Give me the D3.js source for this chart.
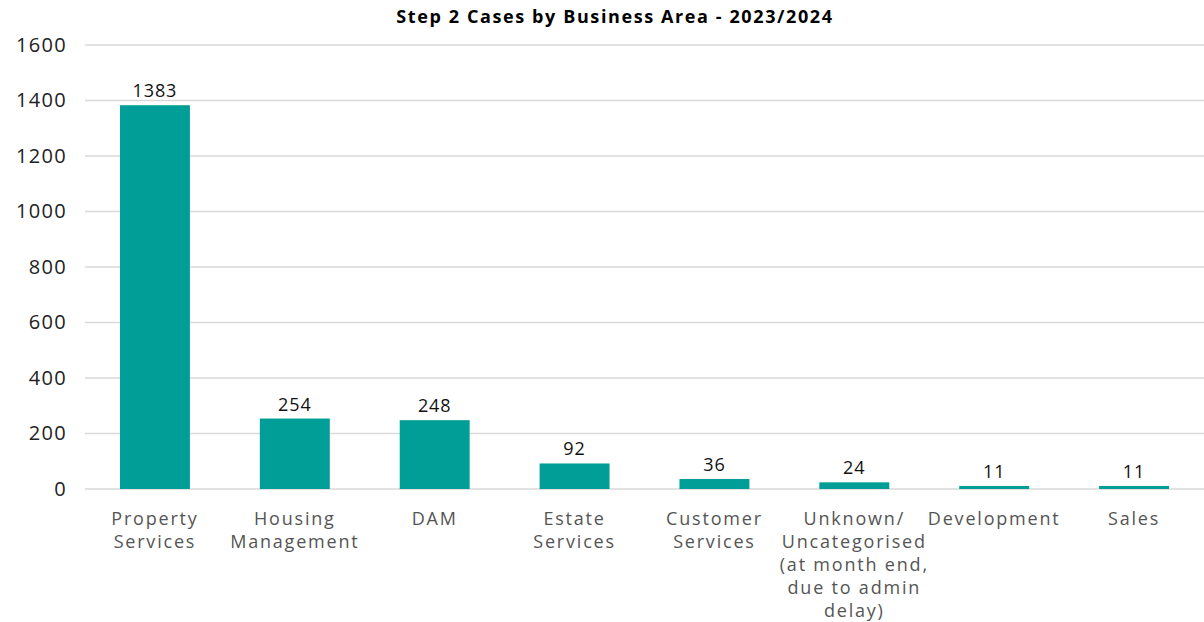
<!DOCTYPE html>
<html>
<head>
<meta charset="utf-8">
<script src="https://cdn.jsdelivr.net/npm/d3@7"></script>
<style>
  html, body { margin: 0; padding: 0; background: #fff; }
  svg { display: block; font-family: "Open Sans", "Noto Sans", sans-serif; }
</style>
</head>
<body>
<svg id="chart" width="1204" height="622"></svg>
<script>
// Step 2 cases per business area, 2023/2024
const categories = [
  ["Property", "Services"],
  ["Housing", "Management"],
  ["DAM"],
  ["Estate", "Services"],
  ["Customer", "Services"],
  ["Unknown/", "Uncategorised", "(at month end,", "due to admin", "delay)"],
  ["Development"],
  ["Sales"]
];
const values = [1383, 254, 248, 92, 36, 24, 11, 11];
const yTicks = [0, 200, 400, 600, 800, 1000, 1200, 1400, 1600];
const title = "Step 2 Cases by Business Area - 2023/2024";

const svg = d3.select("#chart");
const W = 1204, H = 622;
const margin = { top: 45, right: 0, bottom: 133, left: 85 };
const FONT = "'Open Sans', 'Noto Sans', sans-serif";

const keys = categories.map((c, i) => i);
const x = d3.scaleBand().domain(keys).range([margin.left, W - margin.right]).paddingInner(0.5).paddingOuter(0.25);
const y = d3.scaleLinear().domain([0, 1600]).range([H - margin.bottom, margin.top]);

// Title
svg.append("text")
  .attr("x", 615).attr("y", 23)
  .attr("text-anchor", "middle")
  .attr("font-size", 18).attr("font-weight", "bold").attr("fill", "#000")
  .attr("letter-spacing", 1.6)
  .text(title);

// Gridlines
svg.append("g").selectAll("line").data(yTicks).join("line")
  .attr("x1", margin.left).attr("x2", W)
  .attr("y1", d => y(d)).attr("y2", d => y(d))
  .attr("stroke", "#d9d9d9").attr("stroke-width", 1.3);

// Y axis labels
const yAxis = d3.axisLeft(y).tickValues(yTicks).tickFormat(d3.format("d")).tickSize(0).tickPadding(0);
const gy = svg.append("g").attr("transform", `translate(${67},0)`).call(yAxis);
gy.select(".domain").remove();
gy.selectAll("text").attr("font-size", 20).attr("fill", "#222")
  .attr("font-family", FONT).attr("letter-spacing", 1.3);

// Bars
svg.append("g").selectAll("rect").data(values).join("rect")
  .attr("x", (d, i) => x(i))
  .attr("width", x.bandwidth())
  .attr("y", d => y(d))
  .attr("height", d => y(0) - y(d))
  .attr("fill", "#009E96");

// Value labels
svg.append("g").selectAll("text").data(values).join("text")
  .attr("x", (d, i) => x(i) + x.bandwidth() / 2)
  .attr("y", d => y(d) - 8)
  .attr("text-anchor", "middle")
  .attr("font-size", 18).attr("fill", "#111").attr("letter-spacing", 0.9)
  .text(d => d);

// Category labels
const cl = svg.append("g").selectAll("text").data(categories).join("text")
  .attr("x", (d, i) => x(i) + x.bandwidth() / 2)
  .attr("y", 525)
  .attr("text-anchor", "middle")
  .attr("font-size", 18).attr("fill", "#555").attr("letter-spacing", 1.8);
cl.selectAll("tspan").data(d => d).join("tspan")
  .attr("x", function () { return d3.select(this.parentNode).attr("x"); })
  .attr("dy", (d, j) => j === 0 ? 0 : 23)
  .text(d => d);
</script>
</body>
</html>
